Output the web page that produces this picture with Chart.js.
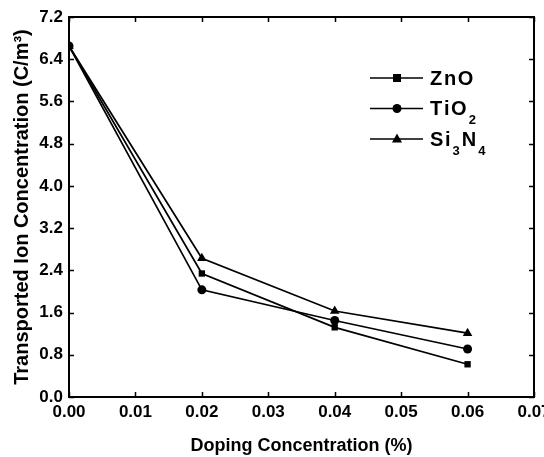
<!DOCTYPE html>
<html>
<head>
<meta charset="utf-8">
<script src="https://cdn.jsdelivr.net/npm/chart.js@4.4.0/dist/chart.umd.min.js"></script>
<style>
  html, body { margin: 0; padding: 0; background: #fff; }
  #wrap { width: 544px; height: 457px; }
</style>
</head>
<body>
<div id="wrap"><canvas id="grafico" width="544" height="457"></canvas></div>
<script>
const doping = [0, 0.02, 0.04, 0.06];
const zno = [6.65, 2.34, 1.32, 0.62];
const tio2 = [6.65, 2.03, 1.45, 0.91];
const si3n4 = [6.65, 2.63, 1.63, 1.21];
const xTicks = [0, 0.01, 0.02, 0.03, 0.04, 0.05, 0.06, 0.07];
const yTicks = [0, 0.8, 1.6, 2.4, 3.2, 4.0, 4.8, 5.6, 6.4, 7.2];

const FONT = "'Liberation Sans', Arial, sans-serif";

function pontos(vals) {
  return doping.map((x, i) => ({ x: x, y: vals[i] }));
}

// ticks para dentro nos 4 lados + moldura
const molduraPlugin = {
  id: 'moldura',
  afterDatasetsDraw(chart) {
    const ctx = chart.ctx;
    const a = chart.chartArea;
    const sx = chart.scales.x, sy = chart.scales.y;
    ctx.save();
    ctx.strokeStyle = '#000';
    ctx.lineWidth = 2;
    ctx.strokeRect(a.left, a.top, a.right - a.left, a.bottom - a.top);
    ctx.lineWidth = 1.5;
    ctx.beginPath();
    xTicks.forEach(v => {
      const px = Math.round(sx.getPixelForValue(v)) + 0.5;
      ctx.moveTo(px, a.bottom); ctx.lineTo(px, a.bottom - 5);
      ctx.moveTo(px, a.top); ctx.lineTo(px, a.top + 5);
    });
    yTicks.forEach(v => {
      const py = Math.round(sy.getPixelForValue(v)) + 0.5;
      ctx.moveTo(a.left, py); ctx.lineTo(a.left + 5, py);
      ctx.moveTo(a.right, py); ctx.lineTo(a.right - 5, py);
    });
    ctx.stroke();
    ctx.restore();
  }
};

// legenda com subscritos
const legendaPlugin = {
  id: 'legenda',
  afterDraw(chart) {
    const ctx = chart.ctx;
    const itens = [
      { parts: [['ZnO', 0]], shape: 'rect' },
      { parts: [['TiO', 0], ['2', 1]], shape: 'circle' },
      { parts: [['Si', 0], ['3', 1], ['N', 0], ['4', 1]], shape: 'triangle' }
    ];
    const hair = String.fromCharCode(8202);
    ctx.save();
    itens.forEach((it, i) => {
      const y = 78 + i * 30.5;
      ctx.strokeStyle = '#000';
      ctx.lineWidth = 1.5;
      ctx.beginPath();
      ctx.moveTo(370, y); ctx.lineTo(423, y);
      ctx.stroke();
      ctx.fillStyle = '#000';
      const cx = 397;
      if (it.shape === 'rect') {
        ctx.fillRect(cx - 4, y - 4, 8, 8);
      } else if (it.shape === 'circle') {
        ctx.beginPath(); ctx.arc(cx, y, 4.5, 0, Math.PI * 2); ctx.fill();
      } else {
        ctx.beginPath();
        ctx.moveTo(cx, y - 5.5); ctx.lineTo(cx + 5, y + 3.5); ctx.lineTo(cx - 5, y + 3.5);
        ctx.closePath(); ctx.fill();
      }
      let tx = 430;
      ctx.textBaseline = 'middle';
      ctx.textAlign = 'left';
      it.parts.forEach(([t, sub]) => {
        if (sub) {
          ctx.font = 'bold 13px ' + FONT;
          ctx.fillText(t, tx + 1, y + 12);
          tx += ctx.measureText(t).width + 3;
        } else {
          const s = t.split('').join(hair);
          ctx.font = 'bold 20px ' + FONT;
          ctx.fillText(s, tx, y + 1);
          tx += ctx.measureText(s).width + 1;
        }
      });
    });
    ctx.restore();
  }
};

const serie = (label, vals, style, radius) => ({
  label: label,
  data: pontos(vals),
  borderColor: '#000',
  backgroundColor: '#000',
  borderWidth: 1.7,
  pointStyle: style,
  pointRadius: radius,
  pointBorderWidth: 0,
  showLine: true,
  tension: 0
});

new Chart(document.getElementById('grafico').getContext('2d'), {
  type: 'scatter',
  data: {
    datasets: [
      serie('ZnO', zno, 'rect', 4.5),
      serie('TiO2', tio2, 'circle', 4.5),
      serie('Si3N4', si3n4, 'triangle', 5.5)
    ]
  },
  options: {
    responsive: false,
    animation: false,
    layout: { padding: { top: 17, right: 10, left: 0, bottom: 0 } },
    plugins: { legend: { display: false }, tooltip: { enabled: false } },
    scales: {
      x: {
        type: 'linear',
        min: 0, max: 0.07,
        afterBuildTicks: s => { s.ticks = xTicks.map(v => ({ value: v })); },
        afterFit: s => { s.height = 60; s.paddingRight = 0; s.paddingLeft = 0; },
        grid: { display: false, drawTicks: false },
        border: { display: false },
        ticks: {
          color: '#000',
          padding: 5,
          maxRotation: 0,
          font: { family: FONT, size: 17, weight: 'bold' },
          callback: v => Number(v).toFixed(2)
        },
        title: {
          display: true,
          text: 'Doping Concentration (%)',
          color: '#000',
          font: { family: FONT, size: 18, weight: 'bold' },
          padding: { top: 0, bottom: 0 }
        }
      },
      y: {
        min: 0, max: 7.2,
        afterBuildTicks: s => { s.ticks = yTicks.map(v => ({ value: v })); },
        afterFit: s => { s.width = 69; s.paddingTop = 0; s.paddingBottom = 0; },
        grid: { display: false, drawTicks: false },
        border: { display: false },
        ticks: {
          color: '#000',
          padding: 6,
          font: { family: FONT, size: 17, weight: 'bold' },
          callback: v => Number(v).toFixed(1)
        },
        title: {
          display: true,
          text: 'Transported Ion Concentration (C/m³)',
          color: '#000',
          font: { family: FONT, size: 20, weight: 'bold' },
          padding: { top: 10, bottom: 0 }
        }
      }
    }
  },
  plugins: [molduraPlugin, legendaPlugin]
});
</script>
</body>
</html>
